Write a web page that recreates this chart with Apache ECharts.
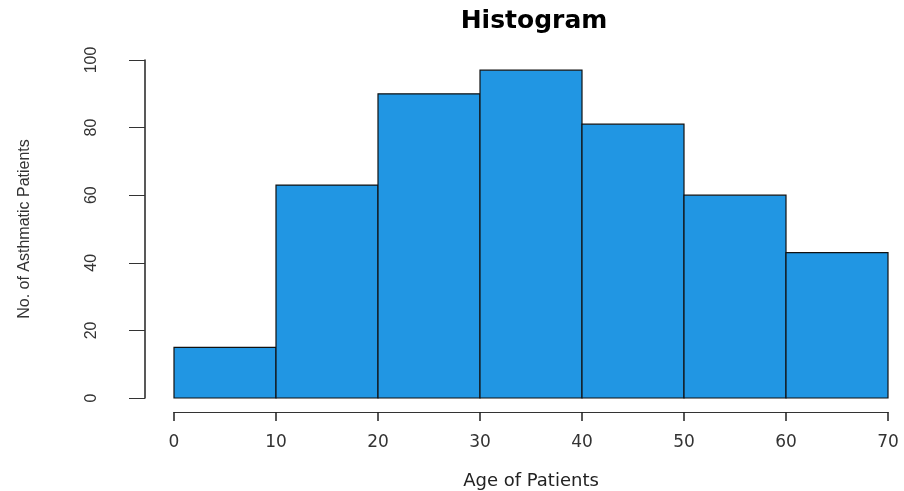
<!DOCTYPE html>
<html>
<head>
<meta charset="utf-8">
<script src="https://cdn.jsdelivr.net/npm/echarts@6/dist/echarts.min.js"></script>
<style>html,body{margin:0;padding:0;background:#fff;}#c{width:904px;height:491px;}</style>
</head>
<body>
<div id="c"></div>
<script>
var binEdges = [0, 10, 20, 30, 40, 50, 60, 70];
var counts = [15, 63, 90, 97, 81, 60, 43];
var xTicks = [0, 10, 20, 30, 40, 50, 60, 70];
var yTicks = [0, 20, 40, 60, 80, 100];
var titleText = 'Histogram';
var xName = 'Age of Patients';
var yName = 'No. of Asthmatic Patients';

var histData = counts.map(function (c, i) { return [binEdges[i], binEdges[i + 1], c]; });

var chart = echarts.init(document.getElementById('c'), null, { renderer: 'canvas' });
chart.setOption({
  backgroundColor: '#ffffff',
  animation: false,
  title: {
    text: titleText,
    left: 529, textAlign: 'center', top: 4,
    textStyle: { fontFamily: 'DejaVu Sans', fontWeight: 'bold', fontSize: 25, color: '#000' }
  },
  grid: { left: 174, right: 16, top: 60, bottom: 93, containLabel: false, outerBoundsMode: 'none' },
  xAxis: {
    type: 'value', min: xTicks[0], max: xTicks[xTicks.length - 1], interval: 10,
    offset: 14,
    name: xName, nameLocation: 'middle', nameGap: 60,
    nameTextStyle: { fontFamily: 'DejaVu Sans', fontSize: 18, color: '#222' },
    axisLine: { show: true, onZero: false, lineStyle: { color: '#333', width: 1 } },
    axisTick: { show: true, length: 9, lineStyle: { color: '#222', width: 1.5 } },
    axisLabel: { margin: 22, fontFamily: 'DejaVu Sans', fontSize: 17, color: '#333' },
    splitLine: { show: false }
  },
  yAxis: {
    type: 'value', min: yTicks[0], max: yTicks[yTicks.length - 1], interval: 20,
    offset: 29,
    name: yName, nameLocation: 'middle', nameGap: 112, nameRotate: 90,
    nameTextStyle: { fontFamily: 'Liberation Sans', fontSize: 16, color: '#333' },
    axisLine: { show: true, onZero: false, lineStyle: { color: '#222', width: 1.5 } },
    axisTick: { show: true, length: 16, lineStyle: { color: '#333', width: 1 } },
    axisLabel: { margin: 45, rotate: 90, fontFamily: 'Liberation Sans', fontSize: 16, color: '#333' },
    splitLine: { show: false }
  },
  series: [{
    type: 'custom',
    data: histData,
    encode: { x: [0, 1], y: 2 },
    renderItem: function (params, api) {
      var p0 = api.coord([api.value(0), api.value(2)]);
      var p1 = api.coord([api.value(1), 0]);
      return {
        type: 'rect',
        shape: { x: p0[0], y: p0[1], width: p1[0] - p0[0], height: p1[1] - p0[1] },
        style: { fill: '#2196e3', stroke: '#111', lineWidth: 1.2 }
      };
    }
  }]
});
</script>
</body>
</html>
